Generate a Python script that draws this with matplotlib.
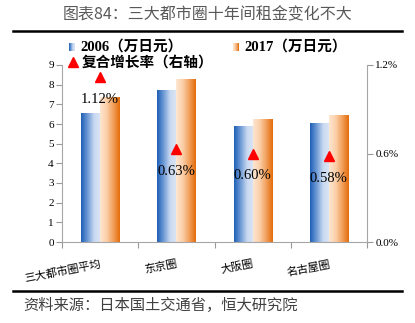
import numpy as np
import matplotlib.pyplot as plt
from matplotlib.colors import LinearSegmentedColormap
from matplotlib.lines import Line2D
from matplotlib.ticker import FuncFormatter

plt.rcParams['font.family'] = ['Liberation Serif', 'Noto Sans CJK SC', 'DejaVu Sans']

categories = ['三大都市圈平均', '东京圈', '大阪圈', '名古屋圈']
rent_2006 = [6.55, 7.7, 5.85, 6.05]
rent_2017 = [7.35, 8.25, 6.25, 6.45]
growth = [1.12, 0.63, 0.60, 0.58]

blue_cmap = LinearSegmentedColormap.from_list('b', ['#1f5fb4', '#6f9bd6', '#c9d9f1', '#dbe6f6'])
orange_cmap = LinearSegmentedColormap.from_list('o', ['#fde6d2', '#fbcfa9', '#f2a05c', '#e36c0a'])
grad = np.linspace(0, 1, 64).reshape(1, -1)

fig = plt.figure(figsize=(4.15, 3.23), dpi=100)
ax = fig.add_axes([62/415, 81/323, 305/415, 177/323])
ax2 = ax.twinx()

x = np.arange(len(categories))
w = 0.25


def gradient_bars(xs, heights, cmap):
    bars = ax.bar(xs, heights, width=w, align='edge', color='none', zorder=2)
    for b in bars:
        x0, h = b.get_x(), b.get_height()
        ax.imshow(grad, extent=[x0, x0 + w, 0, h], aspect='auto', cmap=cmap,
                  zorder=2, interpolation='bilinear')


gradient_bars(x - w, rent_2006, blue_cmap)
gradient_bars(x, rent_2017, orange_cmap)

ax.set_xlim(-0.5, len(categories) - 0.5)
ax.set_ylim(0, 9)
ax.set_yticks(range(10))
ax.set_xticks(np.arange(len(categories) + 1) - 0.5)
ax.set_xticklabels([])
ax.set_xticks(x, minor=True)
ax.set_xticklabels(categories, minor=True, rotation=11, ha='right',
                   rotation_mode='anchor', fontsize=8,
                   family=['Noto Sans CJK SC'])
ax.tick_params(axis='x', which='minor', length=0, pad=12)
ax.tick_params(axis='x', which='major', length=4, color='#999999')
ax.tick_params(axis='y', length=4, color='#999999', labelsize=8, pad=2)

ax2.plot(x, growth, linestyle='none', marker='^', color='#ff0000',
         markersize=7, zorder=5)
for xi, g in zip(x, growth):
    ax2.annotate(f'{g:.2f}%', (xi, g), xytext=(0, -16), textcoords='offset points',
                 ha='center', va='center', fontsize=10.5)
ax2.set_ylim(0, 1.2)
ax2.set_yticks([0, 0.6, 1.2])
ax2.yaxis.set_major_formatter(FuncFormatter(lambda v, p: f'{v:.1f}%'))
ax2.tick_params(axis='y', length=4, color='#999999', labelsize=8, pad=2)

for a in (ax, ax2):
    a.spines['top'].set_visible(False)
    for s in ('left', 'right', 'bottom'):
        a.spines[s].set_color('#a6a6a6')
ax.spines['right'].set_visible(False)
ax2.spines['left'].set_visible(False)
ax2.spines['bottom'].set_visible(False)

# title and rules
fig.text(0.5, 1 - 15/323, '图表84：三大都市圈十年间租金变化不大', ha='center', va='center',
         fontsize=11.5, color='#595959', family=['Noto Sans CJK SC'])
fig.add_artist(Line2D([13/415, 402/415], [1 - 31/323] * 2, color='black', lw=1.8))
fig.add_artist(Line2D([13/415, 402/415], [1 - 291/323] * 2, color='black', lw=1.8))
fig.text(23/415, 1 - 305/323, '资料来源：日本国土交通省，恒大研究院', ha='left', va='center',
         fontsize=11, color='#404040', family=['Noto Sans CJK SC'])

# legend
def legend_patch(xp, yp, cmap):
    lax = fig.add_axes([xp/415, 1 - (yp + 4)/323, 6/415, 8/323])
    lax.imshow(grad, aspect='auto', cmap=cmap, interpolation='bilinear')
    lax.axis('off')


legend_patch(69, 47, blue_cmap)
fig.text(80/415, 1 - 47/323, '2006（万日元）', ha='left', va='center', fontsize=10.5,
         weight='bold', family=['Liberation Serif', 'Noto Sans CJK SC'])
legend_patch(233, 47, orange_cmap)
fig.text(244/415, 1 - 47/323, '2017（万日元）', ha='left', va='center', fontsize=10.5,
         weight='bold', family=['Liberation Serif', 'Noto Sans CJK SC'])
fig.add_artist(Line2D([73/415], [1 - 62/323], marker='^', color='#ff0000',
                      markersize=7, linestyle='none'))
fig.text(82/415, 1 - 62/323, '复合增长率（右轴）', ha='left', va='center', fontsize=10.5,
         weight='bold', family=['Noto Sans CJK SC'])

fig.savefig('out.png', dpi=100)
